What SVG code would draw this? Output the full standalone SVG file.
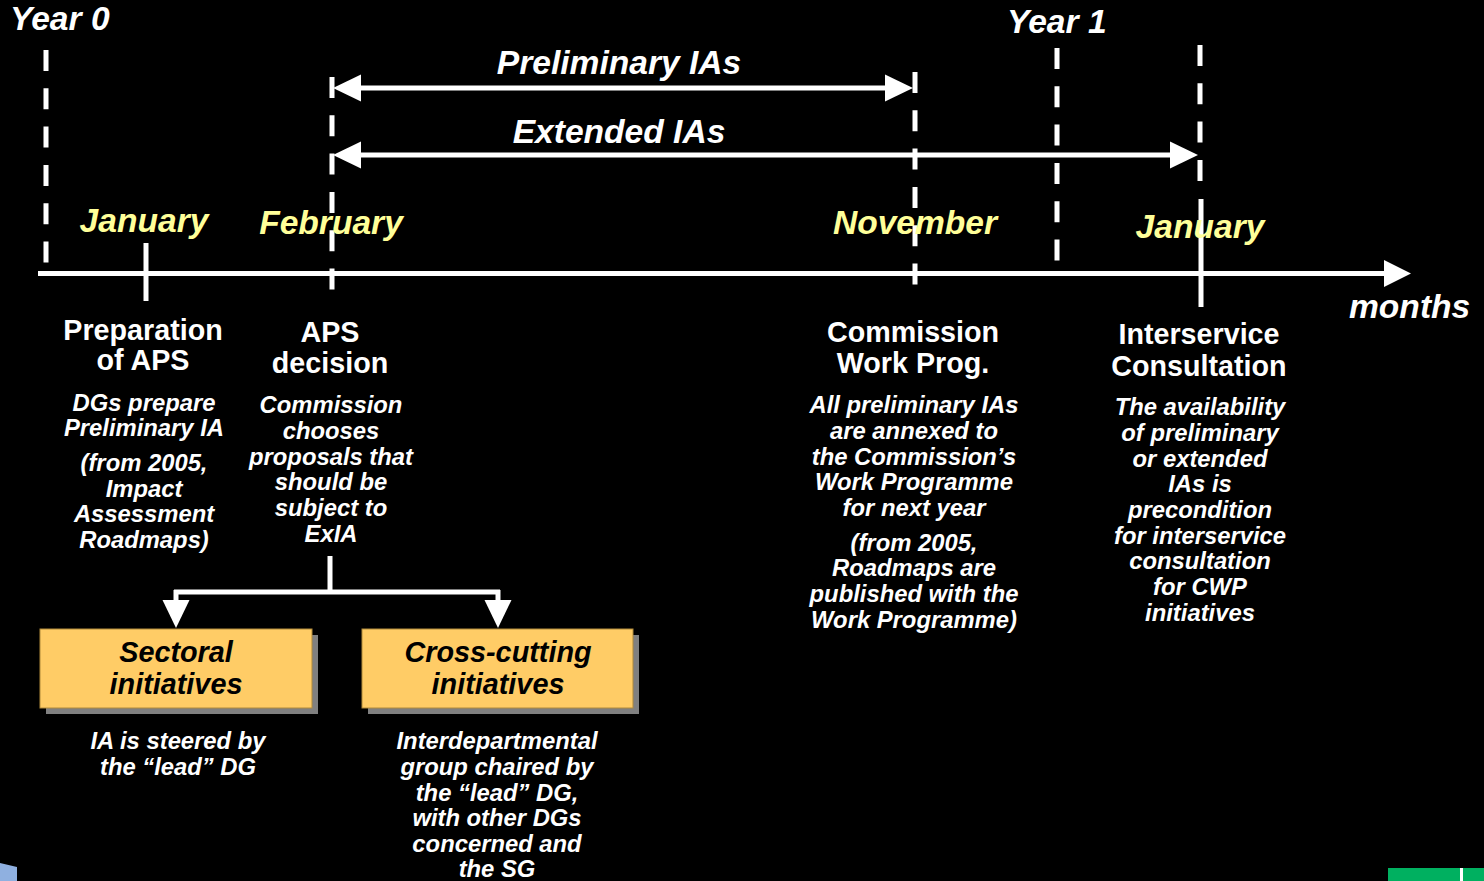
<svg xmlns="http://www.w3.org/2000/svg" width="1484" height="881" viewBox="0 0 1484 881">
<defs>
<style>
.bg{fill:#000}
.t{font-family:"Liberation Sans",Arial,sans-serif;font-weight:bold}
.bi{font-family:"Liberation Sans",Arial,sans-serif;font-weight:bold;font-style:italic}
.w{fill:#fff}
.y{fill:#FFFF99}
.k{fill:#000}
.mid{text-anchor:middle}
.big{font-size:33.6px}
.head{font-size:28.7px}
.sub{font-size:23.8px}
.box{font-size:28.8px}
.dash{stroke:#fff;stroke-width:5;stroke-dasharray:21 17.3;fill:none}
.line{stroke:#fff;stroke-width:5;fill:none}
.ah{fill:#fff}
.node{fill:#FFCC66;stroke:#B08A3A;stroke-width:1}
.shadow{fill:#808080}
</style>
</defs>
<rect class="bg" x="0" y="0" width="1484" height="881"/>

<g id="corner-fragments">
<polygon points="0,863 17,867 17,881 0,881" fill="#8FB0E0"/>
<rect x="1388" y="868" width="96" height="13" fill="#00B060"/>
<rect x="1460" y="868" width="3" height="13" fill="#fff"/>
</g>

<g id="year-labels">
<text class="bi w big" x="10" y="30">Year 0</text>
<text class="bi w big" x="1007" y="33">Year 1</text>
</g>

<g id="connectors">
<line class="dash" x1="46" y1="50" x2="46" y2="263"/>
<line class="dash" x1="332" y1="77" x2="332" y2="290"/>
<line class="dash" x1="915" y1="72" x2="915" y2="285"/>
<line class="dash" x1="1057" y1="48" x2="1057" y2="262"/>
<line class="dash" x1="1200" y1="45" x2="1200" y2="182"/>
<line class="line" x1="1201" y1="199" x2="1201" y2="307"/>
<line class="line" x1="38" y1="273.5" x2="1386" y2="273.5"/>
<polygon class="ah" points="1384,260 1411,273.5 1384,287"/>
<line class="line" x1="146" y1="243" x2="146" y2="301"/>
<line class="line" x1="355" y1="88" x2="890" y2="88"/>
<polygon class="ah" points="333,88 361,74.5 361,101.5"/>
<polygon class="ah" points="913,88 885,74.5 885,101.5"/>
<line class="line" x1="355" y1="155" x2="1175" y2="155"/>
<polygon class="ah" points="333,155 361,141.5 361,168.5"/>
<polygon class="ah" points="1198,155 1170,141.5 1170,168.5"/>
<line class="line" x1="330" y1="556" x2="330" y2="592"/>
<line class="line" x1="174" y1="592" x2="500" y2="592"/>
<line class="line" x1="176" y1="590" x2="176" y2="604"/>
<line class="line" x1="498" y1="590" x2="498" y2="604"/>
<polygon class="ah" points="162.5,600 189.5,600 176,628"/>
<polygon class="ah" points="484.5,600 511.5,600 498,628"/>
</g>

<g id="period-labels">
<text class="bi w big mid" x="619" y="74">Preliminary IAs</text>
<text class="bi w big mid" x="619" y="143">Extended IAs</text>
</g>

<g id="month-labels">
<text class="bi y big mid" x="144" y="232">January</text>
<text class="bi y big mid" x="331" y="234">February</text>
<text class="bi y big mid" x="915" y="234">November</text>
<text class="bi y big mid" x="1200" y="238">January</text>
<text class="bi w big" x="1349" y="318">months</text>
</g>

<g id="node-preparation">
<text class="t w head mid" x="143" y="340">Preparation</text>
<text class="t w head mid" x="143" y="370">of APS</text>
<text class="bi w sub mid" x="144" y="411">DGs prepare</text>
<text class="bi w sub mid" x="144" y="436">Preliminary IA</text>
<text class="bi w sub mid" x="144" y="471">(from 2005,</text>
<text class="bi w sub mid" x="144" y="497">Impact</text>
<text class="bi w sub mid" x="144" y="522">Assessment</text>
<text class="bi w sub mid" x="144" y="548">Roadmaps)</text>
</g>

<g id="node-aps">
<text class="t w head mid" x="330" y="342">APS</text>
<text class="t w head mid" x="330" y="373">decision</text>
<text class="bi w sub mid" x="331" y="413">Commission</text>
<text class="bi w sub mid" x="331" y="439">chooses</text>
<text class="bi w sub mid" x="331" y="465">proposals that</text>
<text class="bi w sub mid" x="331" y="490">should be</text>
<text class="bi w sub mid" x="331" y="516">subject to</text>
<text class="bi w sub mid" x="331" y="542">ExIA</text>
</g>

<g id="node-commission">
<text class="t w head mid" x="913" y="342">Commission</text>
<text class="t w head mid" x="913" y="373">Work Prog.</text>
<text class="bi w sub mid" x="914" y="413">All preliminary IAs</text>
<text class="bi w sub mid" x="914" y="439">are annexed to</text>
<text class="bi w sub mid" x="914" y="465">the Commission’s</text>
<text class="bi w sub mid" x="914" y="490">Work Programme</text>
<text class="bi w sub mid" x="914" y="516">for next year</text>
<text class="bi w sub mid" x="914" y="551">(from 2005,</text>
<text class="bi w sub mid" x="914" y="576">Roadmaps are</text>
<text class="bi w sub mid" x="914" y="602">published with the</text>
<text class="bi w sub mid" x="914" y="628">Work Programme)</text>
</g>

<g id="node-interservice">
<text class="t w head mid" x="1199" y="344">Interservice</text>
<text class="t w head mid" x="1199" y="376">Consultation</text>
<text class="bi w sub mid" x="1200" y="415">The availability</text>
<text class="bi w sub mid" x="1200" y="441">of preliminary</text>
<text class="bi w sub mid" x="1200" y="467">or extended</text>
<text class="bi w sub mid" x="1200" y="492">IAs is</text>
<text class="bi w sub mid" x="1200" y="518">precondition</text>
<text class="bi w sub mid" x="1200" y="544">for interservice</text>
<text class="bi w sub mid" x="1200" y="569">consultation</text>
<text class="bi w sub mid" x="1200" y="595">for CWP</text>
<text class="bi w sub mid" x="1200" y="621">initiatives</text>
</g>

<g id="node-sectoral">
<rect class="shadow" x="46" y="635" width="272" height="79"/>
<rect class="node" x="40" y="629" width="272" height="79"/>
<text class="bi k box mid" x="176" y="662">Sectoral</text>
<text class="bi k box mid" x="176" y="694">initiatives</text>
<text class="bi w sub mid" x="178" y="749">IA is steered by</text>
<text class="bi w sub mid" x="178" y="775">the “lead” DG</text>
</g>

<g id="node-crosscutting">
<rect class="shadow" x="368" y="635" width="271" height="79"/>
<rect class="node" x="362" y="629" width="271" height="79"/>
<text class="bi k box mid" x="498" y="662">Cross-cutting</text>
<text class="bi k box mid" x="498" y="694">initiatives</text>
<text class="bi w sub mid" x="497" y="749">Interdepartmental</text>
<text class="bi w sub mid" x="497" y="775">group chaired by</text>
<text class="bi w sub mid" x="497" y="801">the “lead” DG,</text>
<text class="bi w sub mid" x="497" y="826">with other DGs</text>
<text class="bi w sub mid" x="497" y="852">concerned and</text>
<text class="bi w sub mid" x="497" y="877">the SG</text>
</g>
</svg>
